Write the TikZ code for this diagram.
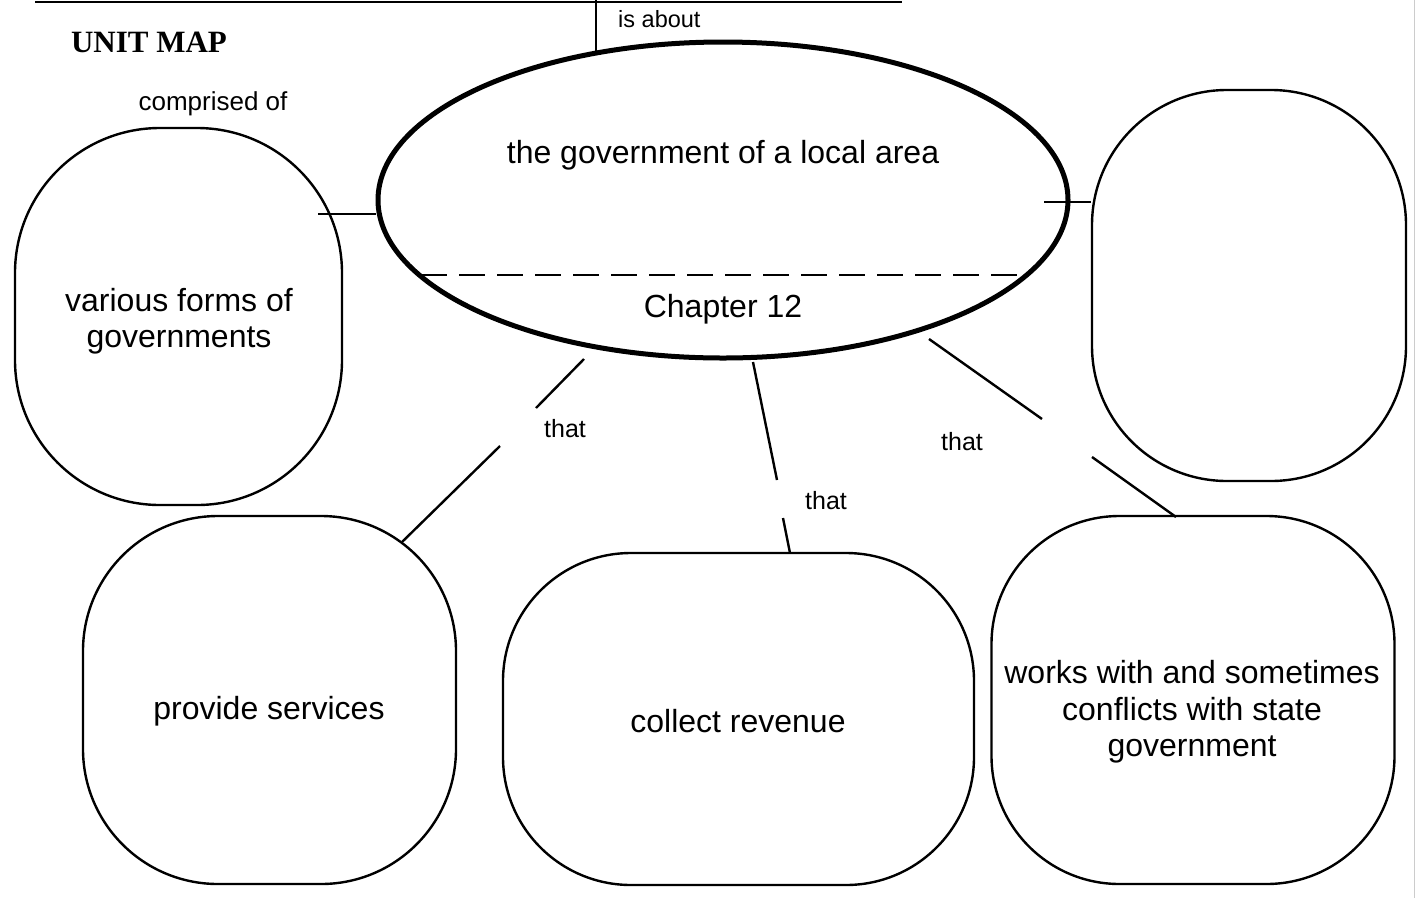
\documentclass[tikz,border=0pt]{standalone}
\usepackage{fontspec}
\setmainfont{Liberation Sans}
\newfontfamily\unitfont{Liberation Serif}
\usetikzlibrary{shapes.geometric}
\tikzset{
  bubble/.style={draw, line width=2.4pt, inner sep=0pt},
  btext/.style={inner sep=0pt, align=center, font=\fontsize{32}{36.5}\selectfont},
  conn/.style={line width=2.4pt},
  lab/.style={inner sep=0pt, font=\fontsize{25}{28}\selectfont},
  maintext/.style={inner sep=0pt, font=\fontsize{32}{36}\selectfont}
}
\begin{document}
\begin{tikzpicture}[x=1pt,y=-1pt]
\useasboundingbox (0,0) rectangle (1416,898);
% frame bits
\coordinate (tl) at (35,2);
\coordinate (tr) at (902,2);
\draw[line width=2.4pt] (tl) -- (tr);
\draw[gray!40, line width=1pt] (1414,0) -- (1414,898);
\node[inner sep=0pt, font=\unitfont\bfseries\fontsize{31}{34}\selectfont] (title) at (149,42) {UNIT MAP};
% main ellipse
\node[ellipse, draw, line width=5pt, minimum width=690pt, minimum height=316pt, inner sep=0pt] (main) at (723,200) {};
\coordinate (dl) at (421,275);
\coordinate (dr) at (1025,275);
\draw[line width=1.6pt, dash pattern=on 26pt off 12pt] (dl) -- (dr);
\node[maintext] (maintitle) at (723,155) {the government of a local area};
\node[maintext] (chap) at (723,309) {Chapter 12};
% is about
\coordinate (ta) at (596,0);
\coordinate (tb) at (596,52);
\draw[line width=2.8pt] (ta) -- (tb);
\node[lab, font=\fontsize{23.5}{26}\selectfont, anchor=west] (isabout) at (618,19) {is about};
% side boxes
\node[bubble, rounded corners=145pt, minimum width=327pt, minimum height=377pt] (lbox) at (178.5,316.5) {};
\node[btext] (lboxt) at (179,321) {various forms of\\governments};
\node[lab, font=\fontsize{26}{28}\selectfont] (comp) at (213,104) {comprised of};
\node[bubble, rounded corners=135pt, minimum width=314pt, minimum height=391pt] (rbox) at (1249,285.5) {};
\coordinate (l1) at (318,214);
\draw[conn] (l1) -- (l1 -| main.west);
\coordinate (r1) at (1044,202);
\draw[conn] (r1) -- (r1 -| rbox.west);
% bottom boxes
\node[bubble, rounded corners=135pt, minimum width=373pt, minimum height=368pt] (b1) at (269.5,700) {};
\node[btext] (b1t) at (269,711) {provide services};
\node[bubble, rounded corners=128pt, minimum width=471pt, minimum height=332pt] (b2) at (738.5,719) {};
\node[btext] (b2t) at (738,721) {collect revenue};
\node[bubble, rounded corners=128pt, minimum width=403pt, minimum height=368pt] (b3) at (1193,700) {};
\node[btext] (b3t) at (1192,712) {works with and sometimes\\conflicts with state\\government};
% connectors with gaps
\coordinate (c1a) at (584,359); \coordinate (c1b) at (536,408);
\coordinate (c1c) at (500,446); \coordinate (c1d) at (402,542);
\draw[conn] (c1a) -- (c1b);
\draw[conn] (c1c) -- (c1d);
\node[lab] (that1) at (565,429) {that};
\coordinate (c2a) at (753,362); \coordinate (c2b) at (777,480);
\coordinate (c2c) at (783,518); \coordinate (c2d) at (790,553);
\draw[conn] (c2a) -- (c2b);
\draw[conn] (c2c) -- (c2d);
\node[lab] (that2) at (826,501) {that};
\coordinate (c3a) at (929,339); \coordinate (c3b) at (1042,419);
\coordinate (c3c) at (1092,457); \coordinate (c3d) at (1176,517);
\draw[conn] (c3a) -- (c3b);
\draw[conn] (c3c) -- (c3d);
\node[lab] (that3) at (962,442) {that};
\end{tikzpicture}
\end{document}
